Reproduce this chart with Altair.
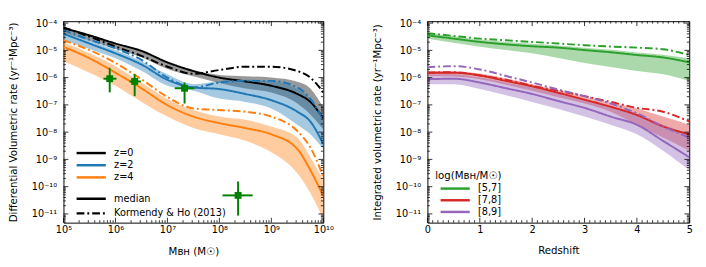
import altair as alt
import pandas as pd

# ---------------- Left panel: differential rate vs BH mass (log10 values) ----------------
LOGM = [5.0, 5.5, 6.0, 6.5, 7.0, 7.5, 8.0, 8.5, 9.0, 9.5, 9.75, 10.0]
Z_SERIES = ["z=0", "z=2", "z=4"]
Z_COLORS = ["#000000", "#1f77b4", "#ff7f0e"]

MED_Z0 = [-4.18, -4.45, -4.75, -5.02, -5.44, -5.76, -6.00, -6.14, -6.30, -6.60, -6.89, -7.49]
HI_Z0 = [-4.15, -4.42, -4.72, -5.00, -5.42, -5.72, -5.90, -5.95, -6.00, -6.15, -6.40, -7.10]
LO_Z0 = [-4.35, -4.65, -4.95, -5.25, -5.68, -5.95, -6.20, -6.40, -6.55, -6.95, -7.35, -7.90]
KH_Z0 = [-4.16, -4.50, -4.86, -5.20, -5.60, -5.86, -5.72, -5.60, -5.60, -5.76, -6.00, -6.54]

MED_Z2 = [-4.39, -4.75, -5.11, -5.52, -6.08, -6.36, -6.42, -6.60, -6.83, -7.25, -7.61, -8.44]
HI_Z2 = [-4.33, -4.65, -4.99, -5.40, -5.88, -6.24, -6.12, -6.08, -6.12, -6.42, -6.77, -7.49]
LO_Z2 = [-4.63, -4.95, -5.29, -5.75, -6.30, -6.48, -6.77, -6.89, -7.13, -7.73, -8.08, -8.62]
KH_Z2 = [-4.25, -4.61, -4.93, -5.35, -6.00, -6.36, -6.18, -6.12, -6.12, -6.36, -6.77, -7.55]

MED_Z4 = [-4.87, -5.29, -5.82, -6.39, -7.01, -7.43, -7.67, -7.85, -8.08, -8.62, -9.39, -10.35]
HI_Z4 = [-4.69, -5.11, -5.58, -6.18, -6.78, -7.19, -7.43, -7.55, -7.79, -8.20, -8.92, -9.75]
LO_Z4 = [-5.40, -5.82, -6.30, -6.89, -7.43, -7.85, -8.08, -8.32, -8.74, -9.51, -10.23, -11.18]
KH_Z4 = [-4.63, -4.99, -5.46, -6.06, -6.71, -7.13, -7.19, -7.25, -7.43, -7.96, -8.56, -9.63]

# observational points (log10 M, log10 rate) with error extents
OBS_M = [5.89, 6.37, 7.33, 8.36]
OBS_M_LO = [5.77, 6.27, 7.14, 8.06]
OBS_M_HI = [6.02, 6.49, 7.52, 8.64]
OBS_R = [-6.04, -6.14, -6.39, -10.32]
OBS_R_LO = [-6.54, -6.68, -6.95, -11.06]
OBS_R_HI = [-5.64, -5.88, -6.18, -9.81]

# ---------------- Right panel: integrated rate vs redshift ----------------
ZGRID = [0.0, 0.5, 1.0, 1.5, 2.0, 2.5, 3.0, 3.5, 4.0, 4.5, 5.0]
M_SERIES = ["[5,7]", "[7,8]", "[8,9]"]
M_COLORS = ["#2ca02c", "#d62728", "#9467bd"]

MED_57 = [-4.45, -4.57, -4.69, -4.78, -4.85, -4.90, -4.99, -5.07, -5.17, -5.26, -5.44]
HI_57 = [-4.37, -4.48, -4.60, -4.69, -4.76, -4.82, -4.90, -4.98, -5.08, -5.16, -5.29]
LO_57 = [-4.57, -4.72, -4.87, -4.99, -5.11, -5.28, -5.46, -5.61, -5.76, -5.88, -6.12]
KH_57 = [-4.37, -4.47, -4.57, -4.63, -4.69, -4.75, -4.81, -4.86, -4.90, -4.96, -5.17]

MED_78 = [-5.82, -5.82, -5.92, -6.12, -6.32, -6.56, -6.81, -7.07, -7.37, -7.79, -8.08]
HI_78 = [-5.76, -5.78, -5.85, -6.03, -6.24, -6.47, -6.71, -6.92, -7.13, -7.43, -7.73]
LO_78 = [-5.94, -5.96, -6.06, -6.26, -6.48, -6.72, -6.95, -7.25, -7.73, -8.20, -8.68]
KH_78 = [-5.82, -5.80, -5.92, -6.08, -6.30, -6.48, -6.68, -6.89, -7.11, -7.25, -7.61]

MED_89 = [-6.06, -6.04, -6.18, -6.39, -6.60, -6.86, -7.11, -7.43, -7.73, -8.32, -8.92]
HI_89 = [-5.88, -5.88, -6.00, -6.18, -6.36, -6.60, -6.83, -7.07, -7.37, -7.73, -8.08]
LO_89 = [-6.24, -6.24, -6.42, -6.65, -6.89, -7.15, -7.43, -7.73, -8.08, -8.68, -9.39]
KH_89 = [-5.62, -5.58, -5.70, -5.94, -6.18, -6.44, -6.68, -6.95, -7.31, -7.79, -8.20]

KINDS = ["median", "Kormendy & Ho (2013)"]

# tick positions
Y_EXP = [-11, -10, -9, -8, -7, -6, -5, -4]
XL_EXP = [5, 6, 7, 8, 9, 10]
XR_MAJOR = [0, 1, 2, 3, 4, 5]

Y_DOMAIN = [10 ** -11.32, 10 ** -3.93]
W_L, W_R, H = 267, 269, 207
GREEN = "#008000"


def to_lin(vals):
    return [10 ** v for v in vals]


# ---------- tables ----------
left_lines = []
left_bands = []
for s, med, hi, lo, kh in zip(Z_SERIES, [MED_Z0, MED_Z2, MED_Z4], [HI_Z0, HI_Z2, HI_Z4],
                              [LO_Z0, LO_Z2, LO_Z4], [KH_Z0, KH_Z2, KH_Z4]):
    for m, a, b, c, d in zip(LOGM, med, hi, lo, kh):
        left_lines.append({"M": 10 ** m, "rate": 10 ** a, "series": s, "kind": KINDS[0]})
        left_lines.append({"M": 10 ** m, "rate": 10 ** d, "series": s, "kind": KINDS[1]})
        left_bands.append({"M": 10 ** m, "hi": 10 ** b, "lo": 10 ** c, "band": s})
left_lines = pd.DataFrame(left_lines)
left_bands = pd.DataFrame(left_bands)
obs = pd.DataFrame({"M": to_lin(OBS_M), "M_lo": to_lin(OBS_M_LO), "M_hi": to_lin(OBS_M_HI),
                    "rate": to_lin(OBS_R), "r_lo": to_lin(OBS_R_LO), "r_hi": to_lin(OBS_R_HI)})

right_lines = []
right_bands = []
for s, med, hi, lo, kh in zip(M_SERIES, [MED_57, MED_78, MED_89], [HI_57, HI_78, HI_89],
                              [LO_57, LO_78, LO_89], [KH_57, KH_78, KH_89]):
    for z, a, b, c, d in zip(ZGRID, med, hi, lo, kh):
        right_lines.append({"z": z, "rate": 10 ** a, "mbin": s, "kind": KINDS[0]})
        right_lines.append({"z": z, "rate": 10 ** d, "mbin": s, "kind": KINDS[1]})
        right_bands.append({"z": z, "hi": 10 ** b, "lo": 10 ** c, "band": s})
right_lines = pd.DataFrame(right_lines)
right_bands = pd.DataFrame(right_bands)

# tick tables
y_major = pd.DataFrame({"v": [10.0 ** e for e in Y_EXP]})
y_minor = pd.DataFrame({"v": [k * 10.0 ** e for e in range(-12, -3) for k in range(2, 10)
                              if Y_DOMAIN[0] <= k * 10.0 ** e <= Y_DOMAIN[1]]})
xl_major = pd.DataFrame({"v": [10.0 ** e for e in XL_EXP]})
xl_minor = pd.DataFrame({"v": [k * 10.0 ** e for e in range(5, 10) for k in range(2, 10)]})
xr_major = pd.DataFrame({"v": [float(v) for v in XR_MAJOR]})
xr_minor = pd.DataFrame({"v": [i / 10 for i in range(0, 51) if i % 10 != 0]})

SUP = str.maketrans("-0123456789", "\u207b\u2070\u00b9\u00b2\u00b3\u2074\u2075\u2076\u2077\u2078\u2079")


def pow_label_expr(exps):
    parts = []
    for e in exps:
        parts.append(f"abs(log(datum.value)/LN10 - ({e})) < 0.01 ? '10{str(e).translate(SUP)}'")
    return " : ".join(parts) + " : ''"


def y_axis(title):
    return alt.Axis(values=[10.0 ** e for e in Y_EXP], labelExpr=pow_label_expr(Y_EXP), ticks=False,
                    domain=False, grid=False, title=title, labelFontSize=10, titleFontSize=10.5,
                    titleFontWeight="normal", labelPadding=7, titlePadding=13, labelFlush=False)


ys = alt.Scale(type="log", domain=Y_DOMAIN, nice=False, zero=False)
xs_left = alt.Scale(type="log", domain=[1e5, 1e10], nice=False, zero=False)
xs_right = alt.Scale(domain=[0, 5], nice=False, zero=False)
ax_y_left = y_axis("Differential Volumetric rate (yr\u207b\u00b9Mpc\u207b\u00b3)")
ax_y_right = y_axis("Integrated volumetric rate (yr\u207b\u00b9Mpc\u207b\u00b3)")
ax_x_left = alt.Axis(values=[10.0 ** e for e in XL_EXP], labelExpr=pow_label_expr(XL_EXP), ticks=False,
                     domain=False, grid=False, title="M\u0299\u029c (M\u2609)", labelFontSize=10,
                     titleFontSize=10.5, titleFontWeight="normal", labelPadding=2, titlePadding=13,
                     labelFlush=False)
ax_x_right = alt.Axis(values=XR_MAJOR, format="d", ticks=False, domain=False, grid=False, title="Redshift",
                      labelFontSize=10, titleFontSize=10.5, titleFontWeight="normal", labelPadding=2,
                      titlePadding=12, labelFlush=False)


def ytick_layers(yaxis, W):
    out = []
    for df, L in [(y_major, 5), (y_minor, 2.5)]:
        for x0, x1 in [(0, L), (W, W - L)]:
            out.append(alt.Chart(df).mark_rule(color="black", strokeWidth=0.8).encode(
                y=alt.Y("v:Q", scale=ys, axis=yaxis), x=alt.value(x0), x2=alt.value(x1)))
    return out


def xtick_layers(dfs, xscale, xaxis):
    out = []
    for df, L in dfs:
        for y0, y1 in [(H, H - L), (0, L)]:
            out.append(alt.Chart(df).mark_rule(color="black", strokeWidth=0.8).encode(
                x=alt.X("v:Q", scale=xscale, axis=xaxis), y=alt.value(y0), y2=alt.value(y1)))
    return out


def band_layers(df, xfield, xscale, xaxis, yaxis, names, colors):
    out = []
    for name, col in zip(names, colors):
        out.append(alt.Chart(df).transform_filter(alt.datum.band == name).mark_area(
            opacity=0.4, interpolate="monotone", clip=True, color=col).encode(
            x=alt.X(f"{xfield}:Q", scale=xscale, axis=xaxis),
            y=alt.Y("hi:Q", scale=ys, axis=yaxis),
            y2="lo:Q"))
    return out


def line_legend(**kw):
    base = dict(orient="none", symbolType="M-3,0H3", symbolSize=100, symbolStrokeWidth=2.5,
                labelFontSize=10, labelOffset=17, padding=0)
    base.update(kw)
    return alt.Legend(**base)


DASHES = [[1, 0], [8, 3, 2, 3]]

# ---------- left chart ----------
l_line = alt.Chart(left_lines).mark_line(strokeWidth=2, interpolate="monotone", clip=True).encode(
    x=alt.X("M:Q", scale=xs_left, axis=ax_x_left),
    y=alt.Y("rate:Q", scale=ys, axis=ax_y_left),
    stroke=alt.Stroke("series:N", scale=alt.Scale(domain=Z_SERIES, range=Z_COLORS),
                      legend=line_legend(title=None, legendX=6, legendY=129, rowPadding=0.5, symbolOffset=16)),
    strokeDash=alt.StrokeDash("kind:N", scale=alt.Scale(domain=KINDS, range=DASHES),
                              legend=line_legend(title=None, legendX=6, legendY=176, rowPadding=3,
                                                 symbolOffset=16, symbolStrokeColor="black")),
)
l_vbar = alt.Chart(obs).mark_rule(color=GREEN, strokeWidth=2).encode(
    x=alt.X("M:Q", scale=xs_left, axis=ax_x_left), y=alt.Y("r_lo:Q", scale=ys, axis=ax_y_left), y2="r_hi:Q")
l_hbar = alt.Chart(obs).mark_rule(color=GREEN, strokeWidth=2).encode(
    x=alt.X("M_lo:Q", scale=xs_left, axis=ax_x_left), x2="M_hi:Q", y=alt.Y("rate:Q", scale=ys, axis=ax_y_left))
l_pts = alt.Chart(obs).mark_square(size=50, color=GREEN, opacity=1).encode(
    x=alt.X("M:Q", scale=xs_left, axis=ax_x_left), y=alt.Y("rate:Q", scale=ys, axis=ax_y_left))

left = alt.layer(
    *band_layers(left_bands, "M", xs_left, ax_x_left, ax_y_left, Z_SERIES, Z_COLORS),
    l_line, l_vbar, l_hbar, l_pts,
    *ytick_layers(ax_y_left, W_L),
    *xtick_layers([(xl_major, 5), (xl_minor, 2.5)], xs_left, ax_x_left),
).properties(width=W_L, height=H)

# ---------- right chart ----------
r_line = alt.Chart(right_lines).mark_line(strokeWidth=2, interpolate="monotone", clip=True).encode(
    x=alt.X("z:Q", scale=xs_right, axis=ax_x_right),
    y=alt.Y("rate:Q", scale=ys, axis=ax_y_right),
    stroke=alt.Stroke("mbin:N", scale=alt.Scale(domain=M_SERIES, range=M_COLORS),
                      legend=line_legend(title="log(M\u0299\u029c/M\u2609)", legendX=8, legendY=154,
                                         symbolOffset=14, rowPadding={"expr": "-1.3"}, titleFontSize=10.5,
                                         titleFontWeight="normal", titlePadding=1)),
    strokeDash=alt.StrokeDash("kind:N", scale=alt.Scale(domain=KINDS, range=DASHES), legend=None),
)
right = alt.layer(
    *band_layers(right_bands, "z", xs_right, ax_x_right, ax_y_right, M_SERIES, M_COLORS),
    r_line,
    *ytick_layers(ax_y_right, W_R),
    *xtick_layers([(xr_major, 5), (xr_minor, 2.5)], xs_right, ax_x_right),
).properties(width=W_R, height=H)

chart = alt.hconcat(left, right, spacing=39).resolve_scale(
    stroke="independent", strokeDash="independent", x="independent"
).resolve_legend(stroke="independent", strokeDash="independent").properties(
    padding={"left": 0, "top": 6, "right": 5, "bottom": 5}
).configure(font="DejaVu Sans").configure_view(stroke="black", strokeWidth=1).configure_axis(
    labelColor="black", titleColor="black"
).configure_legend(labelColor="black", titleColor="black")

chart.save("out.html", embed_options={"renderer": "svg", "actions": False})
